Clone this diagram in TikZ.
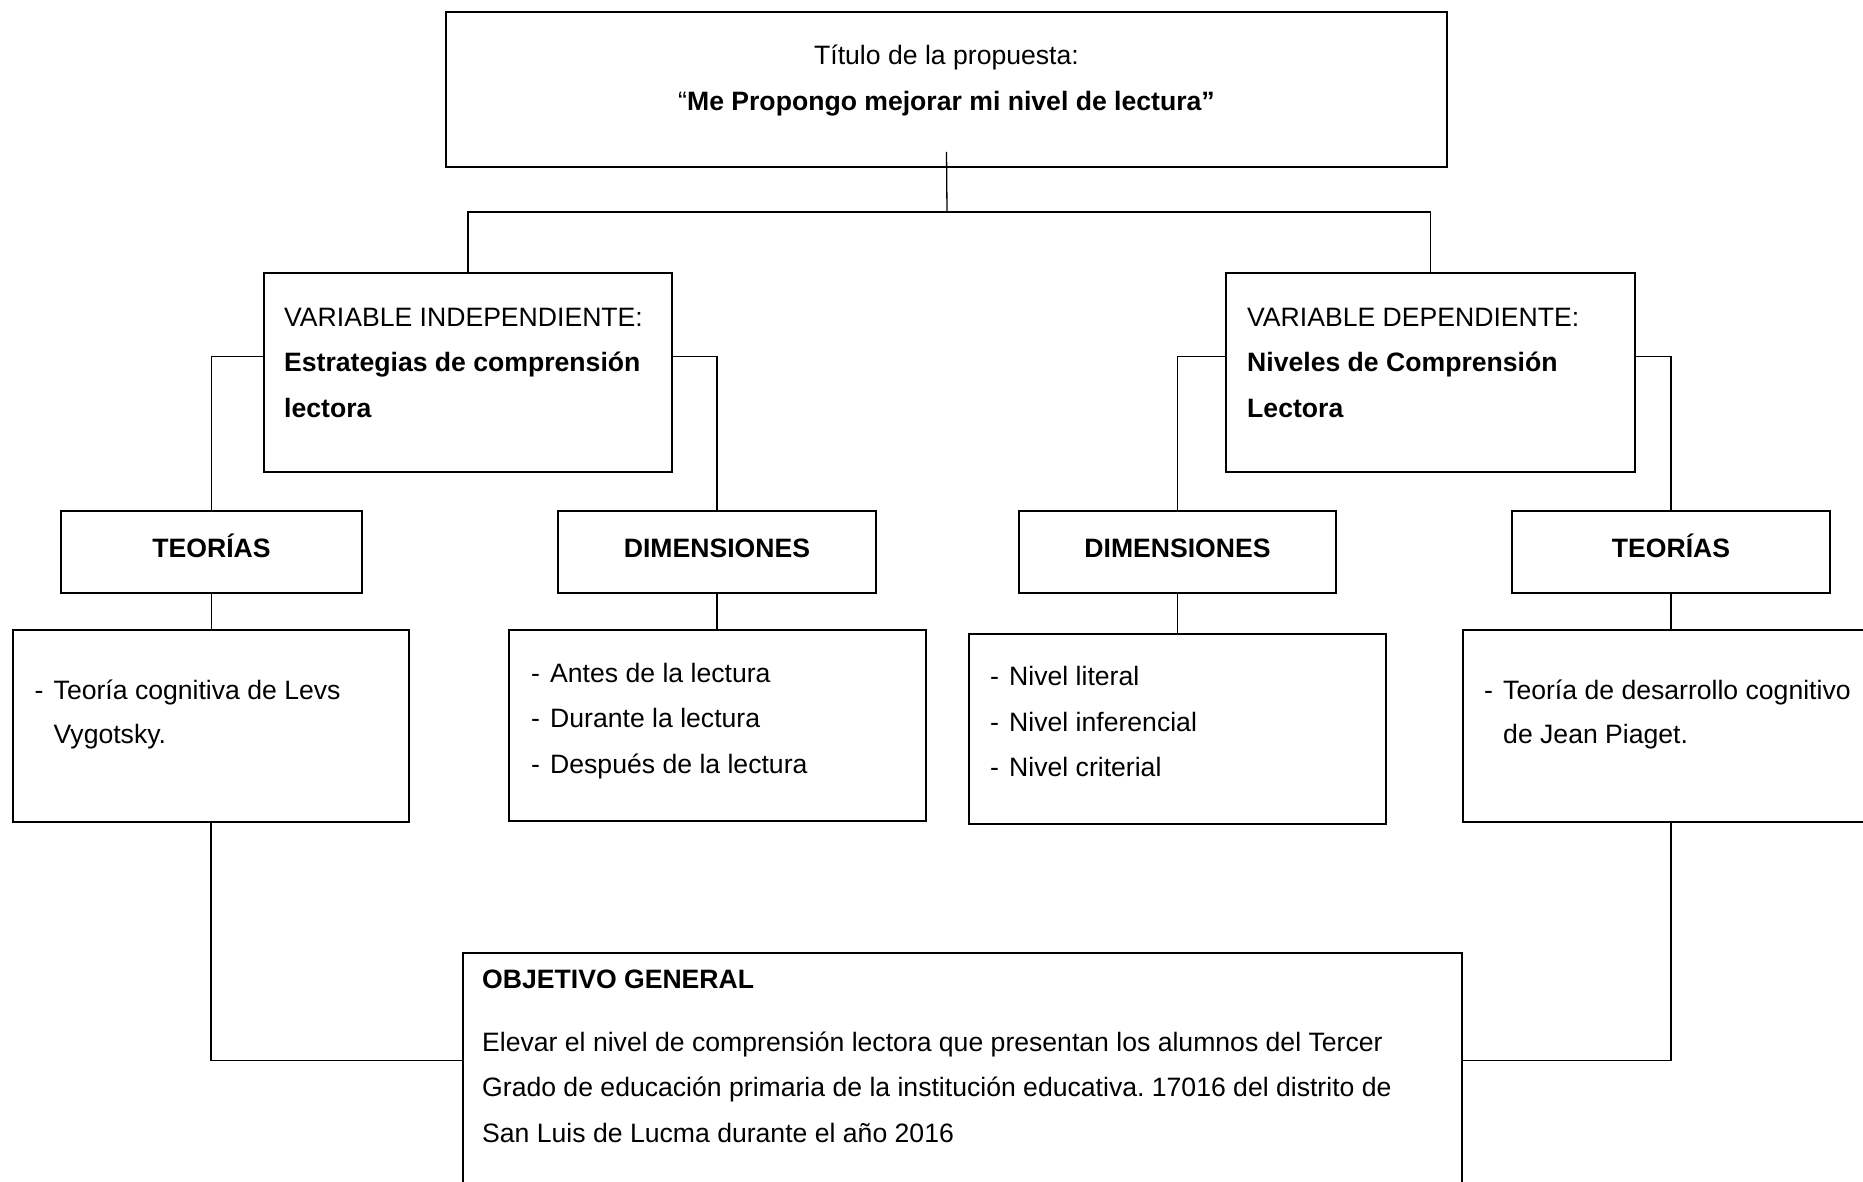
\documentclass[tikz,border=0pt]{standalone}
\usepackage{fontspec}
\setmainfont{Liberation Sans}
\frenchspacing
\newcommand{\dsh}{\makebox[19pt][l]{-}}
\begin{document}
\begin{tikzpicture}[x=1pt,y=-1pt,
  box/.style={draw=black,line width=1.6pt,rectangle,inner sep=0pt},
  txt/.style={inner sep=0pt,anchor=base west,font=\fontsize{26.6}{32}\selectfont},
  ctxt/.style={inner sep=0pt,anchor=base,font=\fontsize{26.6}{32}\selectfont},
  link/.style={draw=black,line width=1.3pt}]
\useasboundingbox (0,0) rectangle (1863,1181);
\clip (0,0) rectangle (1863,1181);
% boxes
\node[box,minimum width=1001pt,minimum height=155pt] (top) at (946.5,89.5) {};
\node[box,minimum width=408pt,minimum height=199pt] (vi) at (468,372.5) {};
\node[box,minimum width=409pt,minimum height=199pt] (vd) at (1430.5,372.5) {};
\node[box,minimum width=301pt,minimum height=82pt] (teoL) at (211.5,552) {};
\node[box,minimum width=318pt,minimum height=82pt] (dimL) at (717,552) {};
\node[box,minimum width=317pt,minimum height=82pt] (dimR) at (1177.5,552) {};
\node[box,minimum width=318pt,minimum height=82pt] (teoR) at (1671,552) {};
\node[box,minimum width=396pt,minimum height=192pt] (c1) at (211,726) {};
\node[box,minimum width=417pt,minimum height=191pt] (c2) at (717.5,725.5) {};
\node[box,minimum width=417pt,minimum height=190pt] (c3) at (1177.5,729) {};
\node[box,minimum width=416pt,minimum height=192pt] (c4) at (1671,726) {};
\node[box,minimum width=999pt,minimum height=247pt] (obj) at (962.5,1076.5) {};
% connectors
\coordinate (hub) at (947,212);
\draw[link] ([yshift=16pt]top.south) -- (hub);
\draw[link] (hub) -| (vi.north);
\draw[link] (hub) -| (vd.north);
\draw[link] ([yshift=16pt]vi.west) -| (teoL.north);
\draw[link] ([yshift=16pt]vi.east) -| (dimL.north);
\draw[link] ([yshift=16pt]vd.west) -| (dimR.north);
\draw[link] ([yshift=16pt]vd.east) -| (teoR.north);
\draw[link] (teoL.south) -- (teoL.south |- c1.north);
\draw[link] (dimL.south) -- (dimL.south |- c2.north);
\draw[link] (dimR.south) -- (dimR.south |- c3.north);
\draw[link] (teoR.south) -- (teoR.south |- c4.north);
\draw[link] (c1.south) |- ([yshift=16pt]obj.west);
\draw[link] (c4.south) |- ([yshift=16pt]obj.east);
% texts
\node[ctxt] (t1) at (946.5,64.5) {Título de la propuesta:};
\node[ctxt] (t2) at (946.5,110.5) {“\textbf{Me Propongo mejorar mi nivel de lectura”}};
\node[txt] (vi1) at (284,326) {VARIABLE INDEPENDIENTE:};
\node[txt] (vi2) at (284,371.5) {\textbf{Estrategias de comprensión}};
\node[txt] (vi3) at (284,417) {\textbf{lectora}};
\node[txt] (vd1) at (1247,326) {VARIABLE DEPENDIENTE:};
\node[txt] (vd2) at (1247,371.5) {\textbf{Niveles de Comprensión}};
\node[txt] (vd3) at (1247,417) {\textbf{Lectora}};
\node[ctxt] (teoLt) at (211.5,557) {\textbf{TEORÍAS}};
\node[ctxt] (dimLt) at (717,557) {\textbf{DIMENSIONES}};
\node[ctxt] (dimRt) at (1177.5,557) {\textbf{DIMENSIONES}};
\node[ctxt] (teoRt) at (1671,557) {\textbf{TEORÍAS}};
\node[txt] (c1a) at (34.5,699) {\dsh Teoría cognitiva de Levs};
\node[txt] (c1b) at (53.5,743) {Vygotsky.};
\node[txt] (c2a) at (531,682) {\dsh Antes de la lectura};
\node[txt] (c2b) at (531,727) {\dsh Durante la lectura};
\node[txt] (c2c) at (531,773) {\dsh Después de la lectura};
\node[txt] (c3a) at (990,685) {\dsh Nivel literal};
\node[txt] (c3b) at (990,731) {\dsh Nivel inferencial};
\node[txt] (c3c) at (990,776) {\dsh Nivel criterial};
\node[txt] (c4a) at (1484,699) {\dsh Teoría de desarrollo cognitivo};
\node[txt] (c4b) at (1503,743) {de Jean Piaget.};
\node[txt] (o1) at (482,988) {\textbf{OBJETIVO GENERAL}};
\node[txt] (o2) at (482,1051) {Elevar el nivel de comprensión lectora que presentan los alumnos del Tercer};
\node[txt] (o3) at (482,1096) {Grado de educación primaria de la institución educativa. 17016 del distrito de};
\node[txt] (o4) at (482,1142) {San Luis de Lucma durante el año 2016};
\end{tikzpicture}
\end{document}
